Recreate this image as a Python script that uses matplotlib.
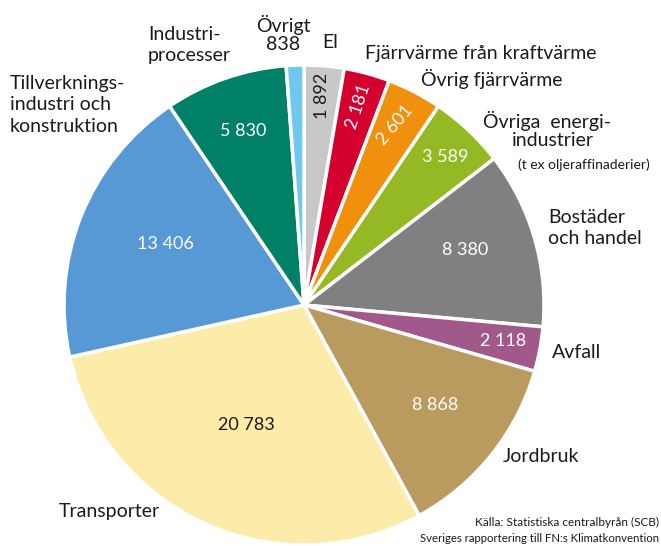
import matplotlib
matplotlib.use("Agg")
import matplotlib.pyplot as plt

plt.rcParams['font.family'] = ['Lato', 'DejaVu Sans']

categories = ["El", "Fjärrvärme från kraftvärme", "Övrig fjärrvärme",
              "Övriga energiindustrier", "Bostäder och handel", "Avfall",
              "Jordbruk", "Transporter", "Tillverkningsindustri och konstruktion",
              "Industriprocesser", "Övrigt"]
values = [1892, 2181, 2601, 3589, 8380, 2118, 8868, 20783, 13406, 5830, 838]
value_labels = ["1 892", "2 181", "2 601", "3 589", "8 380", "2 118",
                "8 868", "20 783", "13 406", "5 830", "838"]
colors = ["#C8C8C8", "#D4002E", "#F0900C", "#95B925", "#808080", "#A1588A",
          "#B99A5F", "#FDEBA9", "#5699D4", "#008066", "#70C8F0"]

W, H = 661, 546
fig = plt.figure(figsize=(W / 100, H / 100), dpi=100)
ax = fig.add_axes([0, 0, 1, 1])

cx, cy, r = 304, H - 305, 240
ax.pie(values, colors=colors, startangle=90, counterclock=False,
       center=(cx, cy), radius=r, frame=True,
       wedgeprops=dict(edgecolor='white', linewidth=2.5))
ax.set_xlim(0, W)
ax.set_ylim(0, H)
ax.set_aspect('equal')
ax.axis('off')

def T(x, y, s, **kw):
    kw.setdefault('fontsize', 14)
    kw.setdefault('color', '#1a1a1a')
    ax.text(x, H - y, s, **kw)

# value labels inside slices (pixel positions in the picture)
inner = {
    "1 892": (322, 96, 90, '#1a1a1a'),
    "2 181": (358, 107, 72, 'white'),
    "2 601": (395, 125, 50, 'white'),
    "3 589": (445, 157, 0, 'white'),
    "8 380": (465, 250, 0, 'white'),
    "2 118": (503, 341, 0, 'white'),
    "8 868": (435, 405, 0, 'white'),
    "20 783": (246, 425, 0, '#1a1a1a'),
    "13 406": (165, 244, 0, 'white'),
    "5 830": (243, 131, 0, 'white'),
}
for lab in value_labels:
    if lab not in inner:
        continue
    x, y, rot, c = inner[lab]
    T(x, y, lab, ha='center', va='center', rotation=rot, color=c,
      fontsize=13, rotation_mode='anchor')

# outer labels
T(283, 34, "Övrigt\n838", ha='center', va='center', linespacing=1.05)
T(330, 42, "El", ha='center', va='center')
T(148, 45, "Industri-\nprocesser", ha='left', va='center', linespacing=1.3)
T(10, 105, "Tillverknings-\nindustri och\nkonstruktion", ha='left', va='center',
  linespacing=1.3)
T(365, 53, "Fjärrvärme från kraftvärme", ha='left', va='center')
T(421, 79, "Övrig fjärrvärme", ha='left', va='center')
T(483, 121, "Övriga  energi-", ha='left', va='center')
T(553, 141, "industrier", ha='center', va='center')
T(518, 165, "(t ex oljeraffinaderier)", ha='left', va='center', fontsize=10)
T(548, 228, "Bostäder\noch handel", ha='left', va='center', linespacing=1.3)
T(552, 352, "Avfall", ha='left', va='center')
T(503, 457, "Jordbruk", ha='left', va='center')
T(59, 511, "Transporter", ha='left', va='center')
T(659, 522, "Källa: Statistiska centralbyrån (SCB)", ha='right', va='center',
  fontsize=8.5)
T(659, 539, "Sveriges rapportering till FN:s Klimatkonvention", ha='right',
  va='center', fontsize=8.2)

fig.savefig("out.png", dpi=100)
